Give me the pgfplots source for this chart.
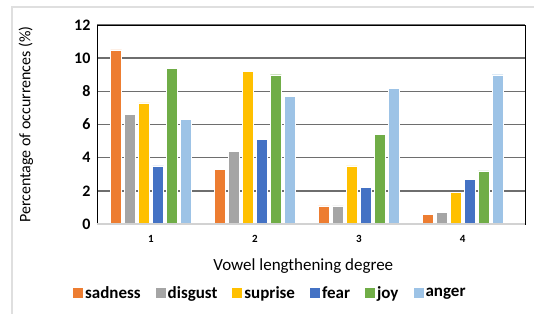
\documentclass[border=0pt]{standalone}
\usepackage{pgfplots}
\pgfplotsset{compat=1.18}
\usepackage{fontspec}
\setmainfont{Carlito}
\definecolor{cSad}{HTML}{ED7D31}
\definecolor{cDis}{HTML}{A5A5A5}
\definecolor{cSup}{HTML}{FFC000}
\definecolor{cFear}{HTML}{4472C4}
\definecolor{cJoy}{HTML}{70AD47}
\definecolor{cAng}{HTML}{9DC3E6}
\definecolor{cGrid}{HTML}{6E6E6E}
\begin{document}
\begin{tikzpicture}
\path[use as bounding box] (-97pt,-89pt) rectangle (437pt,224pt);
\draw[gray!25, line width=1.2pt] (-85pt,-92pt) -- (-85pt,217pt) -- (440pt,217pt);
\begin{axis}[
  at={(0pt,0pt)}, anchor=south west,
  scale only axis, width=428pt, height=199pt,
  ybar=3pt, bar width=11pt,
  xmin=0.48, xmax=4.6, ymin=0, ymax=12,
  xtick={1,2,3,4}, ytick={0,2,...,12},
  major tick length=0pt,
  ymajorgrids=true,
  major grid style={draw=cGrid, line width=1.4pt},
  axis line style={black, line width=0.9pt},
  /pgf/number format/assume math mode=true,
  yticklabel style={font=\bfseries\fontsize{16}{16}\selectfont, xshift=-3pt},
  xticklabel style={font=\bfseries\fontsize{11}{11}\selectfont, yshift=-8pt},
  ylabel={Percentage of occurrences (\%)},
  ylabel style={font=\fontsize{16}{16}\selectfont, at={(axis description cs:-0.166,0.5)}, anchor=center},
  xlabel={Vowel lengthening degree},
  xlabel style={font=\fontsize{17}{17}\selectfont, at={(axis description cs:0.482,-0.21)}, anchor=center},
  legend style={at={(axis description cs:0.405,-0.347)}, anchor=center, draw=none,
    legend columns=-1, font=\bfseries\fontsize{17}{17}\selectfont,
    /tikz/every even column/.append style={column sep=13pt}},
  legend image code/.code={\fill[#1, draw=none] (0pt,-5pt) rectangle (10pt,5pt);},
]
\addplot[fill=cSad, draw=white] coordinates {(1,10.5) (2,3.3) (3,1.1) (4,0.6)};
\addplot[fill=cDis, draw=white] coordinates {(1,6.6) (2,4.4) (3,1.1) (4,0.7)};
\addplot[fill=cSup, draw=white] coordinates {(1,7.3) (2,9.2) (3,3.5) (4,1.9)};
\addplot[fill=cFear, draw=white] coordinates {(1,3.5) (2,5.1) (3,2.2) (4,2.7)};
\addplot[fill=cJoy, draw=white] coordinates {(1,9.4) (2,9.0) (3,5.4) (4,3.2)};
\addplot[fill=cAng, draw=white] coordinates {(1,6.3) (2,7.7) (3,8.2) (4,9.0)};
\legend{sadness, disgust, suprise, fear, joy, anger}
\draw[gray!35, line width=1.4pt] (rel axis cs:0,0) -- (rel axis cs:1,0);
\end{axis}
\end{tikzpicture}
\end{document}
